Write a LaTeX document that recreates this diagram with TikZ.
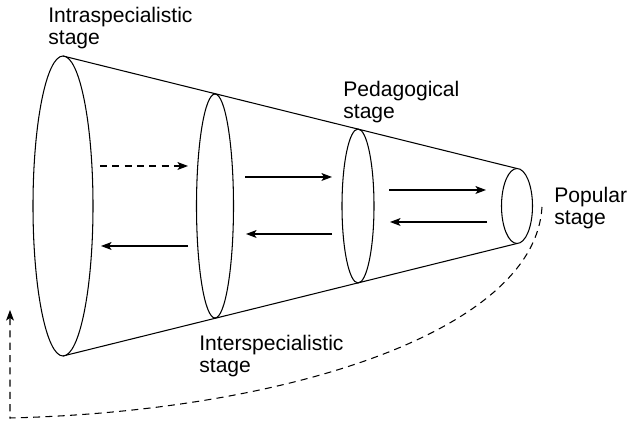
\documentclass[tikz,border=0pt]{standalone}
\usepackage{fontspec}
\setmainfont{Liberation Sans}
\usepackage{tikz}
\usetikzlibrary{arrows.meta}
\usetikzlibrary{calc}

\begin{document}
\begin{tikzpicture}[label/.style={inner sep=0pt, anchor=base west, align=left, font=\fontsize{12}{13}\selectfont}, line/.style={>={Stealth[length=6pt, width=4.5pt, inset=1.5pt]}, line width=.6pt}, back/.style={dash pattern=on 4pt off 3pt}]
	\useasboundingbox (0, 0) rectangle (12.58, 8.46);
	\coordinate (A) at ( 1.26, 4.34) ;
	\coordinate (B) at ( 4.30, 4.34) ;
	\coordinate (C) at ( 7.16, 4.34) ;
	\coordinate (D) at (10.34, 4.34) ;
	\coordinate (At) at ($(A)+(0, 3.0)$) ;
	\coordinate (Ab) at ($(A)-(0, 3.0)$) ;
	\coordinate (Dt) at ($(D)+(0, .75)$) ;
	\coordinate (Db) at ($(D)-(0, .75)$) ;
	\coordinate (r1) at (2.00, 5.14) ;
	\coordinate (r2) at (3.76, 5.14) ;
	\coordinate (s1) at (4.90, 4.92) ;
	\coordinate (s2) at (6.64, 4.92) ;
	\coordinate (t1) at (7.78, 4.66) ;
	\coordinate (t2) at (9.72, 4.66) ;
	\coordinate (u1) at (9.74, 4.02) ;
	\coordinate (u2) at (7.80, 4.02) ;
	\coordinate (v1) at (6.64, 3.78) ;
	\coordinate (v2) at (4.92, 3.78) ;
	\coordinate (w1) at (3.76, 3.54) ;
	\coordinate (w2) at (2.02, 3.54) ;
	\coordinate (loop1) at (10.84, 4.32) ;
	\coordinate (loop2) at (0.20, 0.10) ;
	\coordinate (loop3) at (0.20, 2.26) ;
	% base anchor sits on the last line
	\node[label] (ALabel) at (0.96, 7.56) {Intraspecialistic\\stage};
	\node[label] (CLabel) at (6.86, 6.08) {Pedagogical\\stage};
	\node[label] (DLabel) at (11.08, 3.96) {Popular\\stage};
	\node[label] (BLabel) at (3.98, 1.00) {Interspecialistic\\stage};
	\draw[line] (A) ellipse [x radius=.60, y radius=3.00];
	\draw[line] (B) ellipse [x radius=.37, y radius=2.24];
	\draw[line] (C) ellipse [x radius=.32, y radius=1.54];
	\draw[line] (D) ellipse [x radius=.31, y radius=.75];
	\draw[line] (At) -- (Dt);
	\draw[line] (Ab) -- (Db);
	\draw[->, line, back] (r1) -- (r2);
	\draw[->, line] (s1) -- (s2);
	\draw[->, line] (t1) -- (t2);
	\draw[->, line] (u1) -- (u2);
	\draw[->, line] (v1) -- (v2);
	\draw[->, line] (w1) -- (w2);
	\draw[->, line, back] (loop1) .. controls (10.70, 1.86) and (5.80, 0.24) .. (loop2) -- (loop3);
\end{tikzpicture}
\end{document}
